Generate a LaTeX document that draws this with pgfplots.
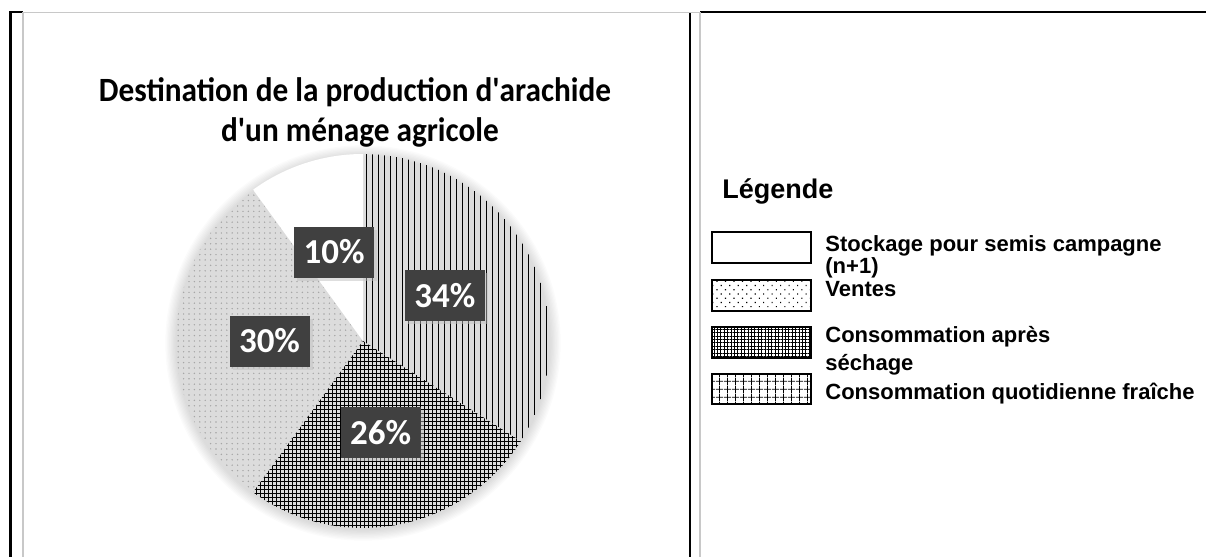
\documentclass[border=0pt]{standalone}
\usepackage{pgfplots}
\pgfplotsset{compat=1.18}
\usepackage{pgfplotstable}
\usepackage{fontspec}
\setmainfont{Carlito}
\newfontfamily\arial{Liberation Sans}
\usetikzlibrary{patterns.meta,shadows}

\definecolor{lblgray}{HTML}{404040}
\definecolor{framegray}{HTML}{C8C8C8}

% part of the harvest, in percent (clockwise from 12 o'clock)
\pgfplotstableread{
label value
fraiche 34
sechage 26
ventes 30
stockage 10
}\piedata

\tikzset{
  slice0/.style={pattern={Lines[angle=90,distance=3pt,line width=0.45pt]},pattern color=black},
  slice1/.style={pattern={Hatch[angle=0,distance=2pt,line width=0.4pt]},pattern color=black},
  slice2/.style={pattern={Dots[distance=2.7pt,radius=0.4pt]},pattern color=black!35},
  slice3/.style={fill=white},
  pct/.style={fill=lblgray,text=white,inner sep=0pt,minimum width=40pt,minimum height=25.5pt,
    font=\fontsize{17.5}{17.5}\selectfont\bfseries,
    drop shadow={shadow xshift=1.5pt,shadow yshift=-1.5pt,fill=black!25}},
  leg/.style={anchor=base west,inner sep=0pt,font=\arial\bfseries\fontsize{11}{13}\selectfont},
  ttl/.style={anchor=base,inner sep=0pt,font=\fontsize{17}{19}\selectfont\bfseries},
}

\begin{document}
\begin{tikzpicture}[x=0.5pt,y=-0.5pt]
\useasboundingbox (0,0) rectangle (1206,557);

% table frame
\draw[line width=1.5pt] (10,12) -- (10,557);
\draw[line width=1.25pt] (9,12) -- (23,12);
\draw[line width=1pt] (690,13) -- (690,557);
\draw[line width=1.25pt] (700,12) -- (1206,12);
\draw[framegray,line width=0.9pt] (23,557) -- (23,12.5) -- (700,12.5) -- (700,557);

% title
\node[ttl] at (355,101) {\scalebox{0.92}[1]{Destination de la production d\textquotesingle arachide}};
\node[ttl] at (360,141) {\scalebox{0.92}[1]{d\textquotesingle un ménage agricole}};

% soft shadow round the pie
\foreach \k in {1,...,9}
  \fill[black,opacity=0.014] (363,343) circle[radius=186+1.3*\k];

\begin{axis}[
  hide axis,
  x=93.5pt, y=93.5pt,
  xmin=-1.1, xmax=1.1, ymin=-1.1, ymax=1.1,
  clip=false,
  anchor=center, at={(181.5pt,-170.5pt)},
]
\pgfplotstablegetrowsof{\piedata}
\pgfmathtruncatemacro\nrows{\pgfplotsretval-1}
\def\cum{0}
\pgfplotsforeachungrouped \i in {0,...,\nrows}{
  \pgfplotstablegetelem{\i}{value}\of\piedata
  \let\val\pgfplotsretval
  \pgfmathsetmacro\angA{90-3.6*\cum}
  \pgfmathsetmacro\angB{90-3.6*(\cum+\val)}
  \edef\slice{\noexpand\fill[slice\i] (axis cs:0,0) -- (axis cs:{cos(\angA)},{sin(\angA)})
    arc[start angle=\angA, end angle=\angB, radius=93.5pt] -- cycle;}
  \slice
  \pgfmathsetmacro\cum{\cum+\val}
}
\def\cum{0}
\pgfplotsforeachungrouped \i in {0,...,\nrows}{
  \pgfplotstablegetelem{\i}{value}\of\piedata
  \let\val\pgfplotsretval
  \pgfmathsetmacro\angM{90-3.6*(\cum+\val/2)}
  \edef\lbl{\noexpand\node[pct] at (axis cs:{0.5*cos(\angM)},{0.5*sin(\angM)}) {\val\noexpand\%};}
  \lbl
  \pgfmathsetmacro\cum{\cum+\val}
}
\end{axis}

% legend
\node[anchor=base west,inner sep=0pt,font=\arial\bfseries\fontsize{13.5}{15}\selectfont] at (722,198) {Légende};
\draw[line width=0.75pt,fill=white] (712,232) rectangle (811,263);
\draw[line width=0.75pt,pattern={Dots[distance=3pt,angle=45,radius=0.4pt]},pattern color=black] (712,280) rectangle (811,311);
\draw[line width=0.75pt,pattern={Hatch[angle=0,distance=1.7pt,line width=0.45pt]},pattern color=black] (712,327) rectangle (811,358);
\draw[line width=0.75pt,pattern={Hatch[angle=0,distance=4pt,line width=0.4pt]},pattern color=black] (712,374) rectangle (811,404);
\node[leg] at (825,251) {Stockage pour semis campagne};
\node[leg] at (825,273) {(n+1)};
\node[leg] at (825,296) {Ventes};
\node[leg] at (825,342) {Consommation après};
\node[leg] at (825,370) {séchage};
\node[leg] at (825,399) {Consommation quotidienne fraîche};
\end{tikzpicture}
\end{document}
